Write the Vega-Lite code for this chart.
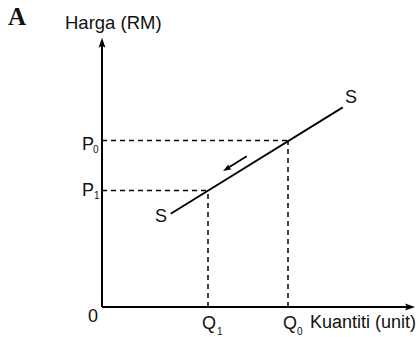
{
  "$schema": "https://vega.github.io/schema/vega-lite/v6.json",
  "width": 420,
  "height": 337,
  "padding": 0,
  "autosize": {"type": "fit", "contains": "padding"},
  "background": "white",
  "config": {"view": {"stroke": null}},
  "datasets": {
    "axes": [
      {"x": 0, "y": 0, "x2": 0, "y2": 263},
      {"x": 0, "y": 0, "x2": 306, "y2": 0}
    ],
    "guides": [
      {"x": 0, "y": 167, "x2": 186, "y2": 167},
      {"x": 186, "y": 0, "x2": 186, "y2": 167},
      {"x": 0, "y": 117, "x2": 106, "y2": 117},
      {"x": 106, "y": 0, "x2": 106, "y2": 117}
    ],
    "supply": [
      {"x": 68.7, "y": 93.7, "x2": 240.7, "y2": 200.3}
    ],
    "move": [
      {"x": 144.7, "y": 151.3, "x2": 125, "y2": 139}
    ],
    "heads": [
      {"x": 0, "y": 265, "angle": 0, "size": 100},
      {"x": 308, "y": 0, "angle": 90, "size": 100},
      {"x": 124.6, "y": 138.6, "angle": 238, "size": 70}
    ],
    "labels": [
      {"x": -37, "y": 278.7, "text": "Harga (RM)", "size": 18.5},
      {"x": -20, "y": 158, "text": "P", "size": 18},
      {"x": -20, "y": 111, "text": "P", "size": 18},
      {"x": -14, "y": -15, "text": "0", "size": 18},
      {"x": 100, "y": -22, "text": "Q", "size": 18},
      {"x": 181, "y": -22, "text": "Q", "size": 18},
      {"x": 208, "y": -21, "text": "Kuantiti (unit)", "size": 18},
      {"x": 243, "y": 205, "text": "S", "size": 18},
      {"x": 53, "y": 85, "text": "S", "size": 18},
      {"x": -9, "y": 155, "text": "0", "size": 10},
      {"x": -8, "y": 108, "text": "1", "size": 10},
      {"x": 115, "y": -28, "text": "1", "size": 10},
      {"x": 195, "y": -28, "text": "0", "size": 10}
    ],
    "title": [
      {"x": -94, "y": 283, "text": "A"}
    ]
  },
  "layer": [
    {
      "data": {"name": "guides"},
      "mark": {"type": "rule", "color": "black", "strokeWidth": 1.5, "strokeDash": [5, 4]},
      "encoding": {
        "x": {"field": "x", "type": "quantitative", "scale": {"domain": [-102, 318], "nice": false, "zero": false}, "axis": null},
        "y": {"field": "y", "type": "quantitative", "scale": {"domain": [-29, 308], "nice": false, "zero": false}, "axis": null},
        "x2": {"field": "x2"},
        "y2": {"field": "y2"}
      }
    },
    {
      "data": {"name": "axes"},
      "mark": {"type": "rule", "color": "black", "strokeWidth": 2},
      "encoding": {
        "x": {"field": "x", "type": "quantitative"},
        "y": {"field": "y", "type": "quantitative"},
        "x2": {"field": "x2"},
        "y2": {"field": "y2"}
      }
    },
    {
      "data": {"name": "supply"},
      "mark": {"type": "rule", "color": "black", "strokeWidth": 1.8},
      "encoding": {
        "x": {"field": "x", "type": "quantitative"},
        "y": {"field": "y", "type": "quantitative"},
        "x2": {"field": "x2"},
        "y2": {"field": "y2"}
      }
    },
    {
      "data": {"name": "move"},
      "mark": {"type": "rule", "color": "black", "strokeWidth": 1.8},
      "encoding": {
        "x": {"field": "x", "type": "quantitative"},
        "y": {"field": "y", "type": "quantitative"},
        "x2": {"field": "x2"},
        "y2": {"field": "y2"}
      }
    },
    {
      "data": {"name": "heads"},
      "mark": {"type": "point", "shape": "M0,-1L0.7,1L0,0.6L-0.7,1Z", "filled": true, "color": "black", "opacity": 1, "strokeWidth": 0},
      "encoding": {
        "x": {"field": "x", "type": "quantitative"},
        "y": {"field": "y", "type": "quantitative"},
        "angle": {"field": "angle", "type": "quantitative", "scale": null},
        "size": {"field": "size", "type": "quantitative", "scale": null}
      }
    },
    {
      "data": {"name": "labels"},
      "mark": {"type": "text", "align": "left", "baseline": "alphabetic", "font": "Liberation Sans", "color": "#111"},
      "encoding": {
        "x": {"field": "x", "type": "quantitative"},
        "y": {"field": "y", "type": "quantitative"},
        "text": {"field": "text"},
        "size": {"field": "size", "type": "quantitative", "scale": null}
      }
    },
    {
      "data": {"name": "title"},
      "mark": {"type": "text", "align": "left", "baseline": "alphabetic", "font": "Liberation Serif", "fontWeight": "bold", "fontSize": 25, "color": "#111"},
      "encoding": {
        "x": {"field": "x", "type": "quantitative"},
        "y": {"field": "y", "type": "quantitative"},
        "text": {"field": "text"}
      }
    }
  ]
}
